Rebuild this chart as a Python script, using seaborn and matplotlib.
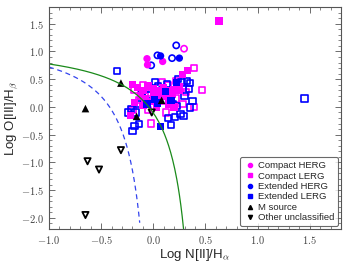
import numpy as np
import pandas as pd
import seaborn as sns
import matplotlib.pyplot as plt
from matplotlib.ticker import FuncFormatter, MultipleLocator
from matplotlib.lines import Line2D

sns.set_style("ticks")
plt.rcParams['font.family'] = ['Liberation Sans', 'DejaVu Sans']
plt.rcParams['mathtext.fontset'] = 'cm'

# ---------------------------------------------------------------------------
# Datos (log N[II]/Ha, log O[III]/Hb)
# ---------------------------------------------------------------------------
compact_herg_x = [-0.06, -0.055, 0.09]
compact_herg_y = [0.87, 0.76, 0.82]
compact_herg_open_x = [0.295]
compact_herg_open_y = [1.05]

compact_lerg_x = [0.63, 0.33, 0.28, -0.20, -0.15, -0.10, -0.05, 0.00, 0.05, 0.10, 0.15, 0.20,
                  0.25, 0.25, -0.12, -0.08, 0.00, 0.05, 0.12, 0.18, -0.18, -0.10, 0.03, 0.20,
                  -0.22, 0.15, -0.03]
compact_lerg_y = [1.55, 0.66, 0.59, 0.40, 0.35, 0.30, 0.38, 0.33, 0.30, 0.35, 0.30, 0.32,
                  0.37, 0.30, 0.20, 0.15, 0.20, 0.18, 0.20, 0.22, 0.08, 0.02, 0.00, 0.00,
                  -0.15, 0.05, 0.10]
compact_lerg_open_x = [0.39, 0.22, 0.47, 0.39, 0.28, 0.31, -0.18, -0.10, 0.08, 0.14, -0.02, 0.22,
                       -0.05, 0.12, -0.20, -0.02, -0.14, 0.28, 0.10]
compact_lerg_open_y = [0.70, 0.47, 0.31, -0.005, 0.05, 0.27, 0.30, 0.40, 0.45, 0.40, 0.25, 0.15,
                       -0.05, -0.10, -0.05, -0.30, 0.12, 0.34, 0.10]

ext_herg_x = [0.07, 0.25]
ext_herg_y = [0.92, 0.88]
ext_herg_open_x = [0.22, 0.04, -0.02, 0.18]
ext_herg_open_y = [1.11, 0.93, 0.75, 0.88]

ext_lerg_x = [0.07, 0.22, 0.01, 0.04, -0.06, 0.12, 0.17]
ext_lerg_y = [-0.35, 0.44, 0.13, 0.07, 0.05, 0.28, 0.12]
ext_lerg_open_x = [-0.35, 0.24, 0.35, 0.34, 0.375, 0.27, -0.215, -0.17, -0.14, -0.18, -0.20,
                   -0.11, 0.045, 0.19, 0.23, 0.21, 0.29, 0.35, 0.14, 0.17, 0.32, 0.26, 1.45,
                   -0.05, 0.08, 0.13, -0.15, 0.02, 0.30, -0.24]
ext_lerg_open_y = [0.65, 0.51, 0.43, 0.33, 0.11, 0.44, -0.04, -0.10, -0.31, -0.35, -0.43,
                   0.28, 0.37, 0.05, 0.02, -0.18, -0.16, -0.01, -0.20, -0.33, 0.47, -0.13, 0.15,
                   0.22, 0.30, 0.42, 0.05, 0.45, 0.20, -0.10]

m_source_x = [-0.65, -0.31, -0.16, 0.08]
m_source_y = [-0.03, 0.43, -0.17, 0.12]

other_x = [-0.63, -0.52, -0.31, -0.65, -0.015]
other_y = [-0.98, -1.13, -0.78, -1.95, -0.10]

# lineas de demarcacion (Kewley 2001, Kauffmann 2003)
kew_a, kew_b, kew_c = 0.61, 0.47, 1.19
kau_a, kau_b, kau_c = 0.61, 0.05, 1.30

MAG = '#ff00ff'
BLU = '#0000ff'

fig = plt.figure(figsize=(3.52, 2.64), dpi=100)
ax = fig.add_axes([0.139, 0.133, 0.83, 0.84])

xk = np.linspace(-1.0, 0.29, 200)
xa = np.linspace(-1.0, -0.13, 200)
sns.lineplot(x=xk, y=kew_a / (xk - kew_b) + kew_c, color='#1a8a1a', lw=0.9, ax=ax)
sns.lineplot(x=xa, y=kau_a / (xa - kau_b) + kau_c, color='#3344ee', lw=0.9,
             linestyle=(0, (4, 3)), ax=ax)

sz = 20
lw_open = 1.2
sns.scatterplot(x=compact_lerg_open_x, y=compact_lerg_open_y, marker='s', s=sz,
                facecolor='none', edgecolor=MAG, linewidth=lw_open, ax=ax)
sns.scatterplot(x=ext_lerg_open_x, y=ext_lerg_open_y, marker='s', s=sz,
                facecolor='none', edgecolor=BLU, linewidth=lw_open, ax=ax)
sns.scatterplot(x=compact_herg_open_x, y=compact_herg_open_y, marker='o', s=sz,
                facecolor='none', edgecolor=MAG, linewidth=lw_open, ax=ax)
sns.scatterplot(x=ext_herg_open_x, y=ext_herg_open_y, marker='o', s=sz,
                facecolor='none', edgecolor=BLU, linewidth=lw_open, ax=ax)
sns.scatterplot(x=compact_lerg_x, y=compact_lerg_y, marker='s', s=sz + 8, color=MAG,
                edgecolor='none', ax=ax)
sns.scatterplot(x=compact_herg_x, y=compact_herg_y, marker='o', s=sz + 8, color=MAG,
                edgecolor='none', ax=ax)
sns.scatterplot(x=ext_herg_x, y=ext_herg_y, marker='o', s=sz + 8, color=BLU,
                edgecolor='none', ax=ax)
sns.scatterplot(x=ext_lerg_x, y=ext_lerg_y, marker='s', s=sz + 8, color=BLU,
                edgecolor='none', ax=ax)
sns.scatterplot(x=m_source_x, y=m_source_y, marker='^', s=sz + 10, color='black',
                edgecolor='none', ax=ax)
sns.scatterplot(x=other_x, y=other_y, marker='v', s=sz, facecolor='none',
                edgecolor='black', linewidth=1.3, ax=ax)

ax.set_xlim(-1.0, 1.8)
ax.set_ylim(-2.2, 1.8)
ax.xaxis.set_major_locator(MultipleLocator(0.5))
ax.xaxis.set_minor_locator(MultipleLocator(0.1))
ax.yaxis.set_major_locator(MultipleLocator(0.5))
ax.yaxis.set_minor_locator(MultipleLocator(0.1))
fmt = FuncFormatter(lambda v, p: f'${v:.1f}$')
ax.xaxis.set_major_formatter(fmt)
ax.yaxis.set_major_formatter(fmt)
ax.tick_params(which='both', direction='in', top=True, right=True, colors='#555555',
               labelcolor='#444444', labelsize=7.5)
ax.tick_params(which='major', length=4, width=0.6)
ax.tick_params(which='minor', length=2, width=0.5)
for sp in ax.spines.values():
    sp.set_color('#555555')
    sp.set_linewidth(0.8)

ax.set_xlabel(r'Log N[II]/H$_\alpha$', fontsize=9.5, labelpad=1)
ax.set_ylabel(r'Log O[III]/H$_\beta$', fontsize=9.5, labelpad=1)

handles = [
    Line2D([], [], ls='none', marker='o', color=MAG, ms=3),
    Line2D([], [], ls='none', marker='s', color=MAG, ms=3),
    Line2D([], [], ls='none', marker='o', color=BLU, ms=3),
    Line2D([], [], ls='none', marker='s', color=BLU, ms=3),
    Line2D([], [], ls='none', marker='^', color='black', ms=3),
    Line2D([], [], ls='none', marker='v', color='black', ms=3),
]
labels = ['Compact HERG', 'Compact LERG', 'Extended HERG', 'Extended LERG',
          'M source', 'Other unclassified']
leg = ax.legend(handles, labels, loc='lower right', fontsize=6.8, frameon=True,
                fancybox=True, borderaxespad=0.3, handletextpad=0.3, handlelength=1.2,
                labelspacing=0.15, borderpad=0.4)
leg.get_frame().set_edgecolor('#444444')
leg.get_frame().set_linewidth(0.8)

plt.savefig('out.png', dpi=100)
